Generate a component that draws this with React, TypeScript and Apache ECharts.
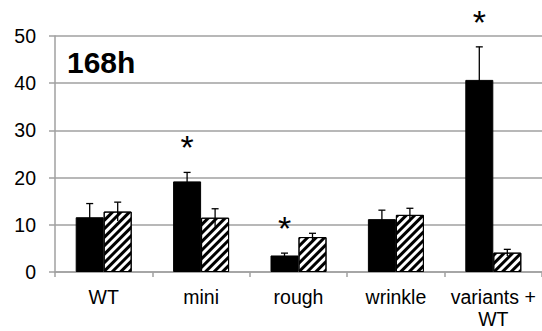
import React, { useEffect, useRef } from "react";
import * as echarts from "echarts";

const categories = ["WT", "mini", "rough", "wrinkle", "variants +\nWT"];
const blackValues = [11.6, 19.2, 3.5, 11.2, 40.7];
const blackErrors = [2.9, 1.9, 0.5, 1.9, 7.0];
const hatchValues = [12.8, 11.5, 7.4, 12.1, 4.1];
const hatchErrors = [2.0, 1.9, 0.8, 1.4, 0.7];
const significant = [false, true, true, false, true];
const yTicks = { min: 0, max: 50, interval: 10 };

const BAR_W = 28;

function errorSeries(values: number[], errors: number[], offset: number, stars: boolean[] | null) {
  return {
    type: "custom",
    z: 10,
    data: values.map((v, i) => [i, v, errors[i], stars && stars[i] ? 1 : 0]),
    renderItem: (params: any, api: any) => {
      const i = api.value(0);
      const v = api.value(1);
      const e = api.value(2);
      const star = api.value(3);
      const top = api.coord([i, v + e]);
      const low = api.coord([i, v - e]);
      const x = top[0] + offset;
      const children: any[] = [
        {
          type: "line",
          shape: { x1: x, y1: low[1], x2: x, y2: top[1] },
          style: { stroke: "#000", lineWidth: 1.3 },
        },
        {
          type: "line",
          shape: { x1: x - 3.5, y1: top[1], x2: x + 3.5, y2: top[1] },
          style: { stroke: "#000", lineWidth: 1.3 },
        },
      ];
      if (star) {
        children.push({
          type: "text",
          x: x,
          y: top[1] - 25,
          style: {
            text: "*",
            fontSize: 34,
            fontFamily: "Liberation Sans",
            fill: "#000",
            align: "center",
            verticalAlign: "middle",
          },
        });
      }
      return { type: "group", children };
    },
  };
}

export default function App() {
  const ref = useRef<HTMLDivElement>(null);
  useEffect(() => {
    if (!ref.current) return;
    const chart = echarts.init(ref.current, null, { renderer: "svg" });
    chart.setOption({
      animation: false,
      backgroundColor: "#fff",
      textStyle: { fontFamily: "Liberation Sans" },
      grid: { left: 55, top: 36, width: 488, bottom: 59, containLabel: false },
      xAxis: {
        type: "category",
        data: categories,
        boundaryGap: true,
        axisLine: { lineStyle: { color: "#a0a0a0", width: 1.5 } },
        axisTick: { show: true, interval: 0, length: 5, lineStyle: { color: "#a0a0a0", width: 1.5 } },
        axisLabel: {
          interval: 0,
          color: "#000",
          fontSize: 19.5,
          margin: 14,
          lineHeight: 22,
          fontFamily: "Liberation Sans",
        },
      },
      yAxis: {
        type: "value",
        min: yTicks.min,
        max: yTicks.max,
        interval: yTicks.interval,
        axisLine: { show: true, lineStyle: { color: "#a0a0a0", width: 1.5 } },
        axisTick: { show: true, length: 6, lineStyle: { color: "#a0a0a0", width: 1.5 } },
        splitLine: { lineStyle: { color: "#a0a0a0", width: 1.5 } },
        axisLabel: { color: "#000", fontSize: 19.5, margin: 19, fontFamily: "Liberation Sans" },
      },
      series: [
        {
          type: "bar",
          data: blackValues,
          barWidth: BAR_W,
          barGap: "0%",
          itemStyle: { color: "#000", borderColor: "#000", borderWidth: 1 },
        },
        {
          type: "bar",
          data: hatchValues,
          barWidth: BAR_W,
          barGap: "0%",
          itemStyle: {
            color: "#fff",
            borderColor: "#000",
            borderWidth: 1,
            decal: {
              symbol: "rect",
              symbolSize: 1,
              color: "#000",
              dashArrayX: [1, 0],
              dashArrayY: [2.2, 2.3],
              rotation: -Math.PI / 4,
            },
          },
        },
        errorSeries(blackValues, blackErrors, -BAR_W / 2, significant),
        errorSeries(hatchValues, hatchErrors, BAR_W / 2, null),
      ],
      graphic: [
        {
          type: "text",
          left: 67,
          top: 47,
          style: {
            text: "168h",
            fontSize: 30,
            fontWeight: "bold",
            fontFamily: "Liberation Sans",
            fill: "#000",
          },
        },
      ],
    });
    return () => chart.dispose();
  }, []);
  return <div ref={ref} style={{ width: 542, height: 331, position: "absolute", left: 0, top: 0 }} />;
}
